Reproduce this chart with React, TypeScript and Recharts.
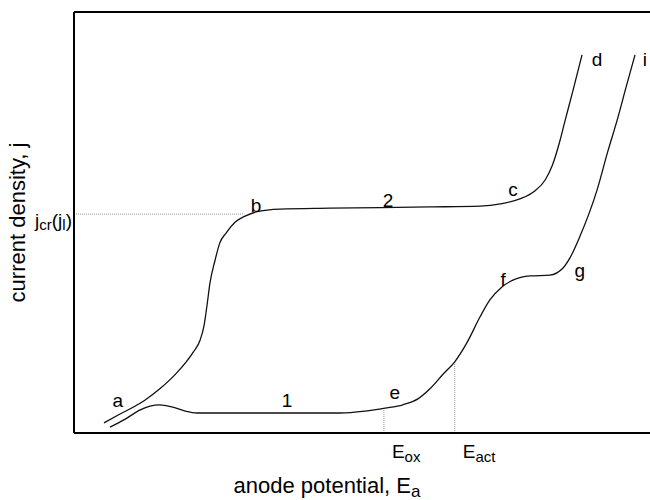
import React from "react";
import {
  ComposedChart,
  Line,
  XAxis,
  YAxis,
  ReferenceLine,
  ReferenceDot,
} from "recharts";

// curve 2 (a-b-c-d): potential vs current, arbitrary units
const upperX = [5.2, 8.0, 12.3, 14.9, 17.5, 20.7, 21.9, 22.6, 23.1, 23.6, 24.5, 25.3, 26.4, 28.0, 29.7, 31.6, 35.8, 44.4, 61.8, 70.5, 74.0, 77.4, 80.0, 81.8, 83.0, 84.4, 85.2, 86.6, 88.2];
const upperY = [2.4, 4.5, 7.8, 10.5, 13.8, 19.2, 22.1, 25.7, 30.4, 35.6, 41.1, 45.1, 47.5, 50.1, 51.5, 52.5, 53.2, 53.4, 53.7, 53.9, 54.4, 55.6, 57.5, 60.1, 63.4, 69.6, 73.9, 81.2, 89.8];

// curve 1 (a-e-f-g-i)
const lowerX = [6.25, 8.9, 11.5, 13.2, 14.9, 17.0, 19.3, 21.4, 32.3, 46.2, 50.5, 54.0, 57.1, 59.7, 61.8, 64.1, 66.1, 68.2, 70.5, 72.2, 74.3, 76.2, 79.2, 82.6, 84.9, 86.1, 87.8, 90.8, 92.7, 94.3, 95.8, 97.4];
const lowerY = [1.4, 3.3, 5.5, 6.4, 6.7, 6.2, 5.2, 4.75, 4.75, 4.75, 5.2, 5.9, 6.7, 8.1, 10.5, 14.0, 16.9, 21.4, 27.6, 31.6, 34.7, 36.3, 37.3, 37.5, 39.2, 41.6, 46.6, 57.7, 67.0, 74.3, 81.9, 89.8];

const jLimit = 52;
const jLimitEnd = 29.5;
const eOx = 53.8;
const eOxJ = 5.9;
const eAct = 66.1;
const eActJ = 16.9;

const pointLabels = [
  { text: "a", x: 7.6, y: 7.8 },
  { text: "1", x: 37.0, y: 7.8 },
  { text: "e", x: 55.7, y: 9.7 },
  { text: "f", x: 74.5, y: 36.6 },
  { text: "g", x: 87.8, y: 38.7 },
  { text: "b", x: 31.6, y: 54.2 },
  { text: "2", x: 54.5, y: 55.3 },
  { text: "c", x: 76.2, y: 58.0 },
  { text: "d", x: 90.8, y: 88.8 },
  { text: "i", x: 99.1, y: 88.8 },
];

const upperData = upperX.map((x, i) => ({ x, j: upperY[i] }));
const lowerData = lowerX.map((x, i) => ({ x, j: lowerY[i] }));

const SANS = "'Liberation Sans', Arial, sans-serif";

const PotentialTick = (props: any) => {
  const { x, y, payload } = props;
  const sub = payload.value === eOx ? "ox" : "act";
  return (
    <text x={x + 8} y={y + 25} fontFamily={SANS} fontSize={19} fill="#000">
      E
      <tspan fontSize={15} dy={4}>
        {sub}
      </tspan>
    </text>
  );
};

const CurrentTick = (props: any) => {
  const { x, y } = props;
  return (
    <text x={x - 2} y={y + 13} textAnchor="end" fontFamily={SANS} fontSize={19} fill="#000">
      j<tspan fontSize={15} dy={3}>cr</tspan>
      <tspan dy={-3}>(j</tspan>
      <tspan fontSize={15} dy={3}>l</tspan>
      <tspan dy={-3}>)</tspan>
    </text>
  );
};

const YTitle = (props: any) => {
  const { viewBox } = props;
  const cx = viewBox.x + 17;
  const cy = viewBox.y + viewBox.height / 2;
  return (
    <text
      x={cx}
      y={cy}
      transform={`rotate(-90 ${cx} ${cy})`}
      textAnchor="middle"
      dominantBaseline="central"
      fontFamily={SANS}
      fontSize={22}
      fill="#000"
    >
      current density, j
    </text>
  );
};

const XTitle = (props: any) => {
  const { viewBox } = props;
  return (
    <text x={viewBox.x + 253} y={493} textAnchor="middle" fontFamily={SANS} fontSize={22} fill="#000">
      anode potential, E<tspan fontSize={17} dy={4}>a</tspan>
    </text>
  );
};

export default function App() {
  return (
    <div style={{ position: "absolute", left: 0, top: 0, background: "#fff" }}>
      <ComposedChart width={650} height={500} margin={{ top: 12, right: 0, left: 0, bottom: 0 }}>
        <XAxis
          type="number"
          dataKey="x"
          domain={[0, 100]}
          ticks={[eOx, eAct]}
          tick={<PotentialTick />}
          tickLine={false}
          tickSize={0}
          tickMargin={0}
          height={67}
          axisLine={{ stroke: "#000", strokeWidth: 2 }}
          allowDataOverflow
          label={<XTitle />}
        />
        <YAxis
          type="number"
          domain={[0, 100]}
          ticks={[jLimit]}
          tick={<CurrentTick />}
          tickLine={false}
          tickSize={0}
          tickMargin={0}
          width={74}
          axisLine={{ stroke: "#000", strokeWidth: 2 }}
          allowDataOverflow
          label={<YTitle />}
        />
        <ReferenceLine y={100} stroke="#000" strokeWidth={2} ifOverflow="visible" />
        <ReferenceLine
          segment={[{ x: 0, y: jLimit }, { x: jLimitEnd, y: jLimit }]}
          stroke="#999"
          strokeDasharray="1 1"
        />
        <ReferenceLine
          segment={[{ x: eOx, y: 0 }, { x: eOx, y: eOxJ }]}
          stroke="#999"
          strokeDasharray="1 1"
        />
        <ReferenceLine
          segment={[{ x: eAct, y: 0 }, { x: eAct, y: eActJ }]}
          stroke="#999"
          strokeDasharray="1 1"
        />
        <Line
          data={upperData}
          dataKey="j"
          type="monotone"
          stroke="#111"
          strokeWidth={1.3}
          dot={false}
          activeDot={false}
          isAnimationActive={false}
        />
        <Line
          data={lowerData}
          dataKey="j"
          type="monotone"
          stroke="#111"
          strokeWidth={1.3}
          dot={false}
          activeDot={false}
          isAnimationActive={false}
        />
        {pointLabels.map((p) => (
          <ReferenceDot
            key={p.text}
            x={p.x}
            y={p.y}
            r={0}
            fill="none"
            stroke="none"
            ifOverflow="visible"
            label={{ value: p.text, position: "center", fill: "#000", fontSize: 19, fontFamily: SANS }}
          />
        ))}
      </ComposedChart>
    </div>
  );
}
